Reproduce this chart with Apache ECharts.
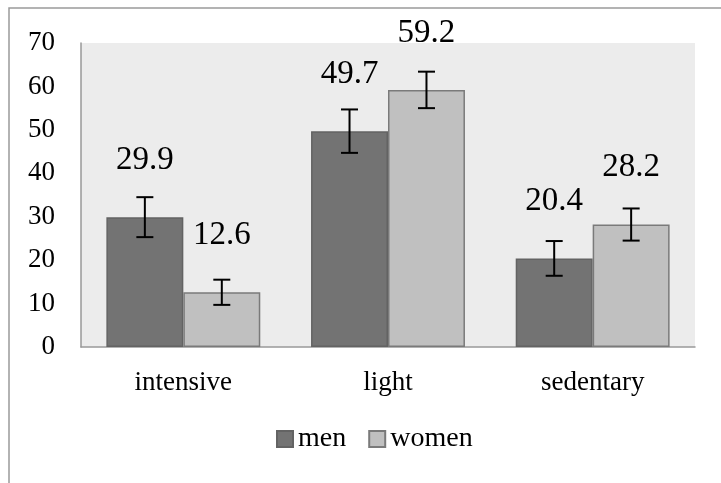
<!DOCTYPE html>
<html><head><meta charset="utf-8">
<script src="https://cdn.jsdelivr.net/npm/echarts@6/dist/echarts.min.js"></script>
<style>html,body{margin:0;padding:0;background:#fff}#c{width:721px;height:483px}</style>
</head><body><div id="c"></div>
<script>
const categories = ['intensive', 'light', 'sedentary'];
const seriesNames = ['men', 'women'];
const menValues = [29.9, 49.7, 20.4];
const womenValues = [12.6, 59.2, 28.2];
const menErrors = [4.6, 5.0, 4.0];
const womenErrors = [2.9, 4.2, 3.7];
const yTicks = [0, 10, 20, 30, 40, 50, 60, 70];

const FONT = 'Liberation Serif';
const AXIS_FS = 27;
const LABEL_FS = 33;
const barFrac = 0.376;

function errSeries(name, values, errs, side) {
  return {
    type: 'custom',
    name: name + '_err',
    z: 10,
    data: values.map((v, i) => [i, v, errs[i]]),
    renderItem: function (params, api) {
      const i = api.value(0), v = api.value(1), e = api.value(2);
      const bw = api.size([1, 0])[0];
      const c = api.coord([i, v]);
      const x = c[0] + side * bw * barFrac / 2;
      const yt = api.coord([i, v + e])[1];
      const yb = api.coord([i, v - e])[1];
      const cap = 8.5;
      const st = { stroke: '#000', lineWidth: 2 };
      return {
        type: 'group',
        children: [
          { type: 'line', shape: { x1: x, y1: yt, x2: x, y2: yb }, style: st },
          { type: 'line', shape: { x1: x - cap, y1: yt, x2: x + cap, y2: yt }, style: st },
          { type: 'line', shape: { x1: x - cap, y1: yb, x2: x + cap, y2: yb }, style: st },
          { type: 'text', style: { text: String(v.toFixed(1)), x: x, y: c[1] - 57, align: 'center', verticalAlign: 'middle', fill: '#000', font: LABEL_FS + 'px "' + FONT + '"' } }
        ]
      };
    }
  };
}

const chart = echarts.init(document.getElementById('c'), null, { renderer: 'canvas' });
chart.setOption({
  animation: false,
  textStyle: { fontFamily: FONT },
  graphic: [
    { type: 'rect', shape: { x: 9, y: 8, width: 800, height: 600 }, style: { fill: 'none', stroke: '#9a9a9a', lineWidth: 1.5 }, z: -10 }
  ],
  grid: { left: 81, top: 43, right: 26, bottom: 136, show: true, backgroundColor: '#ececec', borderWidth: 0 },
  legend: {
    top: 425, left: 276,
    data: seriesNames,
    icon: 'rect', itemWidth: 16, itemHeight: 16, itemGap: 22, padding: 0,
    textStyle: { fontFamily: FONT, fontSize: 28, color: '#000' }
  },
  xAxis: {
    type: 'category', data: categories,
    axisLine: { show: true, lineStyle: { color: '#999', width: 1.5 } },
    axisTick: { show: false },
    axisLabel: { color: '#000', fontSize: AXIS_FS, fontFamily: FONT, margin: 22 }
  },
  yAxis: {
    type: 'value', min: yTicks[0], max: yTicks[yTicks.length - 1], interval: 10,
    axisLine: { show: true, lineStyle: { color: '#999', width: 1.5 } },
    axisTick: { show: false },
    splitLine: { show: false },
    axisLabel: { color: '#000', fontSize: AXIS_FS, fontFamily: FONT, margin: 26 }
  },
  series: [
    { type: 'bar', name: 'men', data: menValues, barWidth: (barFrac * 100) + '%', barGap: '0%',
      itemStyle: { color: '#737373', borderColor: '#636363', borderWidth: 1.5 } },
    { type: 'bar', name: 'women', data: womenValues, barWidth: (barFrac * 100) + '%', barGap: '0%',
      itemStyle: { color: '#c0c0c0', borderColor: '#7a7a7a', borderWidth: 1.5 } },
    errSeries('men', menValues, menErrors, -1),
    errSeries('women', womenValues, womenErrors, 1)
  ]
});
</script></body></html>
